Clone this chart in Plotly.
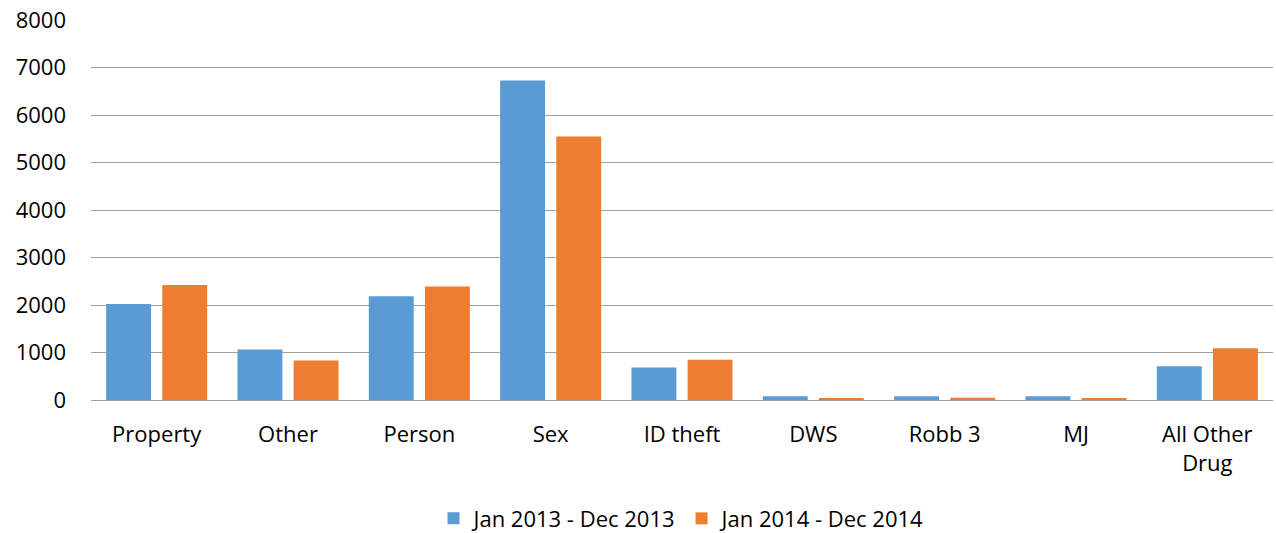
import plotly.graph_objects as go

categories = ["Property", "Other", "Person", "Sex", "ID theft", "DWS", "Robb 3", "MJ", "All Other<br>Drug"]
series_2013 = [2020, 1064, 2183, 6727, 683, 80, 80, 80, 712]
series_2014 = [2420, 833, 2392, 5545, 850, 25, 48, 25, 1090]
name_2013 = "Jan 2013 - Dec 2013"
name_2014 = "Jan 2014 - Dec 2014"
y_ticks = [0, 1000, 2000, 3000, 4000, 5000, 6000, 7000, 8000]

font_family = "Open Sans, Liberation Sans, Arial, sans-serif"

fig = go.Figure()
fig.add_trace(go.Bar(x=categories, y=series_2013, name=name_2013,
                     marker=dict(color="#5B9BD5", line=dict(width=0))))
fig.add_trace(go.Bar(x=categories, y=series_2014, name=name_2014,
                     marker=dict(color="#ED7D31", line=dict(width=0))))

fig.update_layout(
    width=1276, height=533,
    margin=dict(l=91, r=3, t=20, b=133, autoexpand=False),
    paper_bgcolor="white", plot_bgcolor="white",
    barmode="group", bargap=0.145, bargroupgap=0.2,
    font=dict(family=font_family, size=22, color="#000000"),
    showlegend=True,
    legend=dict(orientation="h", x=0.5, xanchor="center", y=-0.312, yanchor="middle",
                font=dict(size=22), itemwidth=30, tracegroupgap=0),
    xaxis=dict(showgrid=False, showline=False, ticks="", tickfont=dict(size=22),
               ticklabelstandoff=19, automargin=False),
    yaxis=dict(range=[0, 8000], tickvals=y_ticks, showgrid=True, gridcolor="#A0A0A0",
               gridwidth=1, zeroline=True, zerolinecolor="#A0A0A0", zerolinewidth=1,
               showline=False, ticks="", ticklabelstandoff=24, tickfont=dict(size=22),
               automargin=False),
)

fig.write_html("out.html", config={"displayModeBar": False},
               post_script="document.body.style.margin='0';")
